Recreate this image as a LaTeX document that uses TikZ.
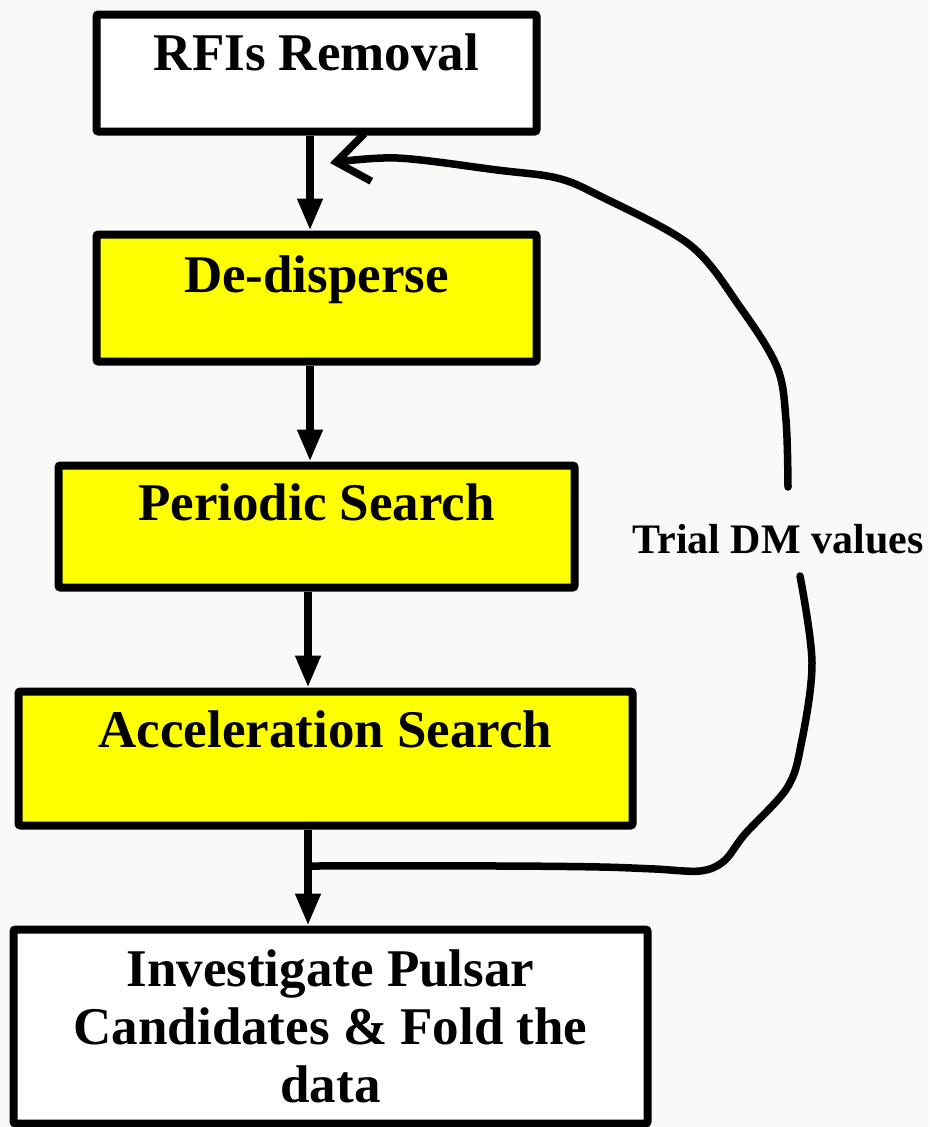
\documentclass[tikz,border=0pt]{standalone}
\usepackage{fontspec}
\setmainfont{Liberation Serif}
\usetikzlibrary{arrows.meta,calc}
\definecolor{bgpaper}{RGB}{249,249,247}
\definecolor{boxyellow}{RGB}{255,255,0}
\tikzset{
  flowbox/.style={draw=black, line width=8pt, rounded corners=2pt, inner sep=0pt,
    font=\fontsize{53}{58}\selectfont\bfseries},
  whitebox/.style={flowbox, fill=white},
  yellowbox/.style={flowbox, fill=boxyellow},
  flowarrow/.style={line width=7.5pt, -{Triangle[length=32pt,width=24pt]}},
  loopline/.style={line width=7.5pt, line cap=round, line join=round},
  looplabel/.style={font=\fontsize{42}{46}\selectfont\bfseries, inner sep=0pt}
}
\begin{document}
\begin{tikzpicture}[x=1pt,y=-1pt]
\fill[bgpaper] (0,0) rectangle (929,1127);
\useasboundingbox (0,0) rectangle (929,1127);

\node[whitebox, anchor=north, minimum width=440pt, text height=56pt, text depth=61pt] (b1) at (316.5,10.5) {RFIs Removal};
\node[yellowbox, anchor=north, minimum width=440pt, text height=57.5pt, text depth=69.5pt] (b2) at (316.5,230.5) {De-disperse};
\node[yellowbox, anchor=north, minimum width=516pt, text height=55pt, text depth=67pt] (b3) at (316.5,461.5) {Periodic Search};
\node[yellowbox, anchor=north, minimum width=614pt, text height=56pt, text depth=78pt] (b4) at (325.5,687.5) {Acceleration Search};
\node[whitebox, minimum width=634pt, minimum height=194pt, align=center] (b5) at (330.5,1026.5) {Investigate Pulsar\\Candidates \& Fold the\\data};

\coordinate (ax) at (310,0);
\coordinate (bx) at (308,0);
\coordinate (j) at (308,866);

\draw[flowarrow] (b1.south -| ax) -- (b2.north -| ax);
\draw[flowarrow] (b2.south -| ax) -- (b3.north -| ax);
\draw[flowarrow] (b3.south -| bx) -- (b4.north -| bx);
\draw[flowarrow] (b4.south -| bx) -- (b5.north -| bx);

\node[looplabel, anchor=base] (lbl) at (778,553) {Trial DM values};

\draw[loopline] plot[smooth, tension=0.55] coordinates {(308,866) (500,866) (600,867) (655,869) (700,871) (724,861) (745,834) (787,788) (801,745) (812,663) (800,576)};
\draw[loopline, -{Straight Barb[length=32pt,width=48pt,line width=7.5pt]}] plot[smooth, tension=0.55] coordinates {(788,487) (786,420) (777,367) (740,307) (690,245) (600,196) (557,178) (497,170) (397,158) (330,163)};
\end{tikzpicture}
\end{document}
